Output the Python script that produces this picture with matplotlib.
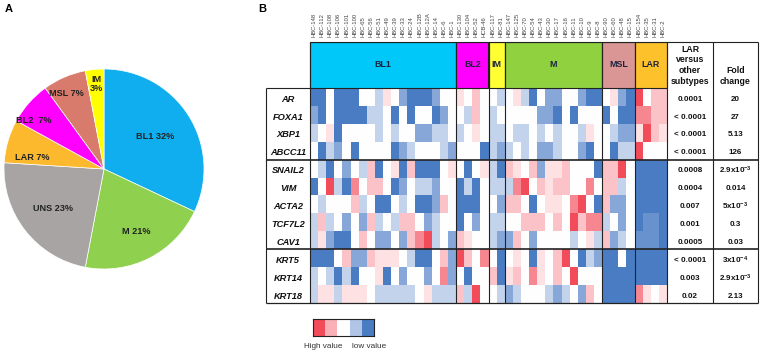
import numpy as np
import matplotlib
matplotlib.use("Agg")
import matplotlib.pyplot as plt
from matplotlib.colors import LinearSegmentedColormap

plt.rcParams['font.family'] = ['Liberation Sans', 'DejaVu Sans']
plt.rcParams['mathtext.fontset'] = 'custom'
plt.rcParams['mathtext.rm'] = 'Liberation Sans:bold'
plt.rcParams['mathtext.it'] = 'Liberation Sans:bold'
plt.rcParams['mathtext.bf'] = 'Liberation Sans:bold'
plt.rcParams['mathtext.default'] = 'rm'

# ---------------- data ----------------
pie_names = ["BL1", "M", "UNS", "LAR", "BL2", "MSL", "IM"]
pie_values = [32, 21, 23, 7, 7, 7, 3]
pie_colors = ["#10aeee", "#8fd14f", "#a8a4a4", "#fdb92e", "#ff00ff", "#d97b6c", "#ffff00"]

groups = ["BL1", "BL2", "IM", "M", "MSL", "LAR"]
group_counts = [18, 4, 2, 12, 4, 4]
group_colors = ["#00c8f8", "#ff00ff", "#ffff33", "#8fd13f", "#da9694", "#fdc12c"]

columns = ["HBC-148", "HBC-112", "HBC-108", "HBC-106", "HBC-101", "HBC-100", "HBC-65",
           "HBC-56", "HBC-51", "HBC-49", "HBC-39", "HBC-33", "HBC-24", "HBC-12B",
           "HBC-12A", "HBC-14", "HBC-6", "HBC-1",
           "HBC-130", "HBC-104", "HBC-52", "HCB-46",
           "HBC-117", "HBC-81",
           "HBC-147", "HBC-125", "HBC-70", "HBC-54", "HBC-43", "HBC-30", "HBC-17",
           "HBC-16", "HBC-11", "HBC-10", "HBC-9", "HBC-8",
           "HBC-90", "HBC-60", "HBC-48", "HBC-15",
           "HBC-154", "HBC-35", "HBC-31", "HBC-2"]

genes = ["AR", "FOXA1", "XBP1", "ABCC11", "SNAIL2", "VIM", "ACTA2", "TCF7L2",
         "CAV1", "KRT5", "KRT14", "KRT18"]

# relative expression (positive = high value / red, negative = low value / blue)
AR = [-3,-3,0,-3,-3,-3,0,0,-1,0.5,0,-2,-3,-3,-3,-2,0,0, 0.5,0,1,0, 0,-1,
      0,0.5,-1,-3,0,-2,-2,0,0,-2,-3,-3, 0,0.5,-2,-3, 3,0,1,1]
FOXA1 = [-2,-3,0,-3,-3,-3,-3,-1,-1,0,-3,0,-3,0,0,-3,-2,0, 0,-1,1,0, -1,0,
         0,0,0,0,-2,-2,-3,0,-3,0,0,0, -3,0,-3,-3, 2,2,1,1]
XBP1 = [-1,0,0.5,-3,0,0,0,0,-1,0,-1,0,0,-2,-2,-1,-1,0, -1,0,0.5,0, -1,-1,
        0,-1,-1,0,-1,0,-1,0,0,-1,0.5,0, 0,-1,-2,-2, 0.5,3,1,0.5]
ABCC11 = [0,-3,-1,-2,0,-3,0,0,0,0,-3,-2,-1,0,0,0,-1,-2, 0,0,0,-3, -1,-2,
          -1,0,-1,0,-2,-2,-1,0,0,-2,-3,0, 0,-3,-1,-1, 3,0,0,0]
SNAIL2 = [0,-1,-3,0,-2,0,-1,1,-3,0,0.5,-3,1,-3,-3,-3,0,0.5, 0,-3,0,0.5, -1,-3,
          1,0.5,0,1,-2,0.5,0.5,1,0,0,0,-3, 1,1,3,0, -3,-3,-3,-3]
VIM = [-3,0,3,-1,-3,2,0,1,1,0,-3,-2,0,-1,-1,-2,0,0, -3,-1,-3,0, -1,-1,
       -1,2,3,0,1,0.5,1,1,0,0,2,0, 1,1,-1,0, -3,-3,-3,-3]
ACTA2 = [0,-1,0,0,0,1,-1,0,-3,-3,0,-1,0,-3,-3,-2,1,0, -3,-3,-3,0, 0,-2,
         1,1,0,-3,0,0.5,0.5,0,2,3,0,-3, 1,-2,-2,0, -3,-3,-3,-3]
TCF7L2 = [-1,1,-1,0,-2,0,-2,1,-1,0,-1,1,1,0,-2,-1,0,0, -3,0,-2,0, -1,-1,
          0,0,1,1,1,0,1,0,3,1,2,2, -1,0,-2,0, -3,-2.5,-2.5,-3]
CAV1 = [-1,0.5,-2,-3,-3,0,1,0,-2,-2,0,-2,1,2,3,-1,0,-2, 1,0.5,0,0, -1,-2,
        -2,1,0,-2,0,0,0,0,-1,0,0.5,-1, 1,-2,-1,0, -2.5,-2.5,-2.5,-3]
KRT5 = [-3,-3,-3,0,1,-2,-2,1,0.5,0.5,0.5,0,-1,-3,-3,0,1,-2, 3,1,0,2, 0,-3,
        0,0.5,0,-3,0.5,0,1,3,0,-3,-1,-2, -3,-3,0,-3, -3,-3,-3,-3]
KRT14 = [-1,0,-1,-3,-1,-3,0,0,0.5,-3,0,-2,0,0,-2,0,2,-2, 0,-3,0,0, 1,-3,
         0.5,1,0,2,0.5,0,1,0,3,0,0,0, -3,-3,-3,-3, -3,-3,-3,-3]
KRT18 = [-1,0.5,0.5,-1,0.5,0.5,0.5,0,-1,-1,-1,-1,-1,0,0.5,-1,-1,-1, 1,-1,3,0, 0,-1,
         -2,-1,0,0,0,-1,-2,-1,0,-2,1,0, -3,-3,-3,-3, 2,0.5,0,0.5]

p_values = ["0.0001", "< 0.0001", "< 0.0001", "< 0.0001", "0.0008", "0.0004",
            "0.007", "0.001", "0.0005", "< 0.0001", "0.003", "0.02"]
fold_changes = ["20", "27", "5.13", "126", r"2.9x10$^{-3}$", "0.014", r"5x10$^{-3}$",
                "0.3", "0.03", r"3x10$^{-4}$", r"2.9x10$^{-3}$", "2.13"]
gene_blocks = [4, 5, 3]
legend_levels = [3, 1.3, 0, -1.3, -3]

# ---------------- figure ----------------
W, H = 761, 355
fig = plt.figure(figsize=(W / 100, H / 100), dpi=100)


def fx(px):
    return px / W


def fy(py):
    return 1 - py / H


cmap = LinearSegmentedColormap.from_list("lowhigh", ["#4a7cc4", "#ffffff", "#f24b5a"])

# ---- panel A : pie ----
axp = fig.add_axes([fx(3), fy(270), 202 / W, 202 / H])
wedges, _ = axp.pie(pie_values, colors=pie_colors, startangle=90, counterclock=False,
                    wedgeprops=dict(edgecolor="white", linewidth=0.5))
axp.set_xlim(-1.01, 1.01)
axp.set_ylim(-1.01, 1.01)
label_r = [0.6, 0.7, 0.64, 0.73, 0.85, 0.84, 0.85]
label_off = [0, 0, 0, 7, 7, 3, 0]
for w, name, v, r, off in zip(wedges, pie_names, pie_values, label_r, label_off):
    ang = np.deg2rad((w.theta1 + w.theta2) / 2 + off)
    if name == "IM":
        txt = f"{name}\n{v}%"
    elif name == "BL2":
        txt = f"{name}  {v}%"
    else:
        txt = f"{name} {v}%"
    axp.text(r * np.cos(ang), r * np.sin(ang), txt, ha="center", va="center",
             fontsize=6.6, fontweight="bold", color="#222222", linespacing=1.0)

fig.text(fx(5), fy(9), "A", fontsize=8, fontweight="bold", ha="left", va="center")
fig.text(fx(258), fy(9), "B", fontsize=8, fontweight="bold", ha="left", va="center")

# ---- panel B : heatmap + table ----
data = np.array([AR, FOXA1, XBP1, ABCC11, SNAIL2, VIM, ACTA2, TCF7L2, CAV1, KRT5, KRT14, KRT18])
ncol = len(columns)
nrow = len(genes)
CW = 357 / ncol          # px per column
RH = 215 / nrow          # px per row
x_left = (266 - 310) / CW
x_right = (758 - 310) / CW
x_mid = (713 - 310) / CW
hh = (88 - 42) / RH

axh = fig.add_axes([fx(266), fy(303), (758 - 266) / W, (303 - 42) / H])
axh.set_xlim(x_left, x_right)
axh.set_ylim(nrow, -hh)
axh.axis("off")
axh.pcolormesh(np.arange(ncol + 1), np.arange(nrow + 1), data, cmap=cmap, vmin=-3, vmax=3)

starts = np.concatenate([[0], np.cumsum(group_counts)[:-1]])
axh.bar(starts, hh, width=group_counts, bottom=-hh, align="edge", color=group_colors,
        edgecolor="#222222", linewidth=0.8)
for s, c, g in zip(starts, group_counts, groups):
    axh.text(s + c / 2, -hh / 2, g, ha="center", va="center", fontsize=6.4,
             fontweight="bold", color="#1e2440")

for i, c in enumerate(columns):
    axh.text(i + 0.5, -hh - 0.26, c, rotation=90, ha="center", va="bottom",
             fontsize=4.2, color="#444444", clip_on=False)

lc = "#222222"
# vertical lines
for xv in list(np.cumsum(group_counts)) + [0]:
    axh.vlines(xv, -hh, nrow, color=lc, lw=0.8, clip_on=False)
axh.vlines([x_mid, x_right], -hh, nrow, color=lc, lw=0.8, clip_on=False)
axh.vlines(x_left, 0, nrow, color=lc, lw=0.8, clip_on=False)
# horizontal lines
axh.hlines(-hh, 0, x_right, color=lc, lw=0.8, clip_on=False)
axh.hlines(0, x_left, 0, color=lc, lw=0.8, clip_on=False)
axh.hlines(nrow, x_left, x_right, color=lc, lw=0.9, clip_on=False)
for yv in np.cumsum(gene_blocks)[:-1]:
    axh.hlines(yv, x_left, x_right, color=lc, lw=1.2, clip_on=False)

for i, (g, p, f) in enumerate(zip(genes, p_values, fold_changes)):
    yc = i + 0.5 + 0.12
    axh.text(x_left / 2, yc, g, ha="center", va="center", fontsize=6.7,
             fontweight="bold", fontstyle="italic", color="#111111")
    axh.text((ncol + x_mid) / 2, yc, p, ha="center", va="center", fontsize=5.8,
             fontweight="bold", color="#111111")
    axh.text((x_mid + x_right) / 2, yc, f, ha="center", va="center", fontsize=5.8,
             fontweight="bold", color="#111111")

axh.text((ncol + x_mid) / 2, -0.12, "LAR\nversus\nother\nsubtypes", ha="center",
         va="bottom", fontsize=6.3, fontweight="bold", color="#111111", linespacing=1.25)
axh.text((x_mid + x_right) / 2, -0.12, "Fold\nchange", ha="center", va="bottom",
         fontsize=6.3, fontweight="bold", color="#111111", linespacing=1.25)

# ---- legend bar ----
axl = fig.add_axes([fx(313), fy(336), 61 / W, 17 / H])
axl.imshow([legend_levels], cmap=cmap, vmin=-3, vmax=3, aspect="auto")
axl.set_xticks([])
axl.set_yticks([])
for sp in axl.spines.values():
    sp.set_color("#222222")
    sp.set_linewidth(0.8)
fig.text(fx(323), fy(347), "High value", ha="center", va="center", fontsize=5.9, color="#333333")
fig.text(fx(369), fy(347), "low value", ha="center", va="center", fontsize=5.9, color="#333333")

fig.savefig("out.png", dpi=100)
